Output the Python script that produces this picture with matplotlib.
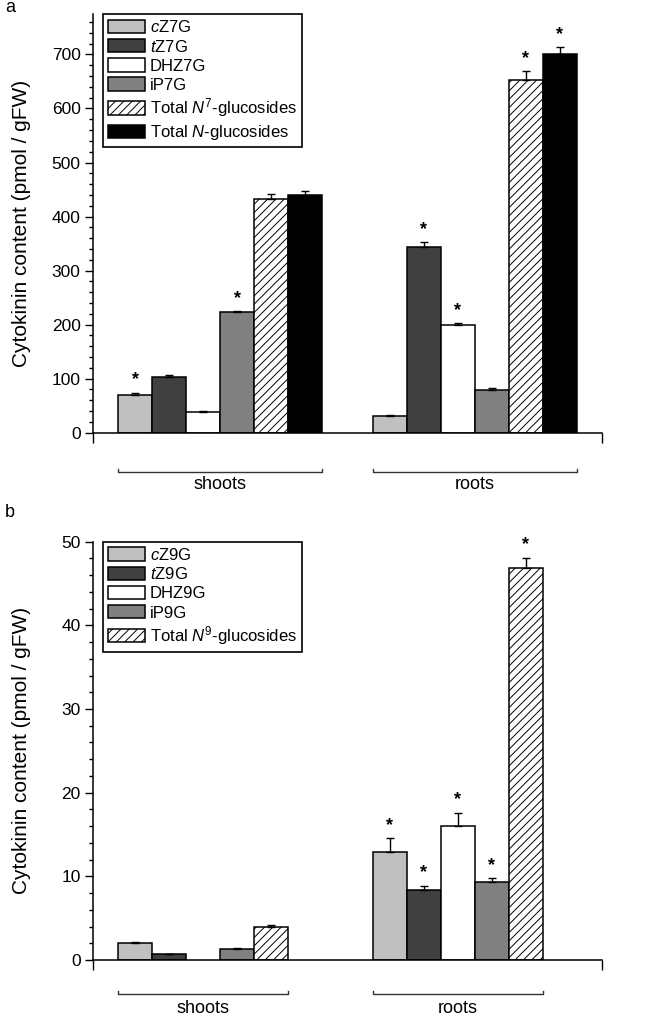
import numpy as np
import matplotlib
matplotlib.use("Agg")
import matplotlib.pyplot as plt
from matplotlib.patches import Patch
from matplotlib import transforms

plt.rcParams['font.family'] = ['Liberation Sans', 'DejaVu Sans']
plt.rcParams['mathtext.fontset'] = 'custom'
plt.rcParams['mathtext.rm'] = 'Liberation Sans'
plt.rcParams['mathtext.it'] = 'Liberation Sans:italic'
plt.rcParams['hatch.linewidth'] = 0.7

# data, panel a (N7 / total N-glucosides)
labels_a = ['$c$Z7G', '$t$Z7G', 'DHZ7G', 'iP7G', 'Total $N^{7}$-glucosides', 'Total $N$-glucosides']
shoots_a = [70, 102.5, 38, 223, 433, 439]
shoots_a_err = [4, 3.5, 1.5, 2, 8, 8]
roots_a = [30, 343, 200, 78.5, 652, 700]
roots_a_err = [3.5, 10, 3, 3.5, 17, 14]
stars_shoots_a = [True, False, False, True, False, False]
stars_roots_a = [False, True, True, False, True, True]

# data, panel b (N9-glucosides)
labels_b = ['$c$Z9G', '$t$Z9G', 'DHZ9G', 'iP9G', 'Total $N^{9}$-glucosides']
shoots_b = [2.0, 0.68, 0, 1.27, 3.96]
shoots_b_err = [0.1, 0.08, 0, 0.22, 0.2]
roots_b = [12.9, 8.4, 16.0, 9.35, 46.8]
roots_b_err = [1.7, 0.5, 1.6, 0.4, 1.3]
stars_shoots_b = [False] * 5
stars_roots_b = [True] * 5

groups = ['shoots', 'roots']

# bar styles
FACES = ['#c0c0c0', '#404040', 'white', '#808080', 'white', 'black']
HATCHES = [None, None, None, None, '////', None]

GROUP_START = [0.75, 8.25]
FS = 13


def draw_panel(ax, values, errors, stars, labels, ymax, major, minor, ncols, bracket_y, text_y):
    for g in range(2):
        for i in range(ncols):
            x = GROUP_START[g] + i + 0.5
            v = values[g][i]
            e = errors[g][i]
            if v > 0:
                ax.bar(x, v, width=1.0, color=FACES[i], edgecolor='black',
                       linewidth=1.1, hatch=HATCHES[i], zorder=2)
            if e > 0:
                ax.errorbar(x, v, yerr=[[0], [e]], fmt='none', ecolor='black',
                            elinewidth=1.0, capsize=3, capthick=1.0, zorder=3)
            if stars[g][i]:
                ax.annotate('*', (x, v + e), xytext=(0, 3), textcoords='offset points',
                            ha='center', va='bottom', fontsize=FS, fontweight='bold')
        # bracket under the group
        trans = transforms.blended_transform_factory(ax.transData, ax.transAxes)
        x0 = GROUP_START[g]
        x1 = GROUP_START[g] + ncols
        ax.plot([x0, x0, x1, x1], [bracket_y + 0.007, bracket_y, bracket_y, bracket_y + 0.007],
                color='#333333', lw=1.0, transform=trans, clip_on=False)
        ax.text((x0 + x1) / 2, text_y, groups[g], transform=trans,
                ha='center', va='center', fontsize=FS)

    ax.set_xlim(0, 15)
    ax.set_ylim(0, ymax)
    ax.set_xticks([0, 15])
    ax.set_xticklabels([])
    ax.set_yticks(np.arange(0, ymax + 0.1, major))
    ax.set_yticks(np.arange(0, ymax + 0.1, minor), minor=True)
    ax.tick_params(axis='y', which='major', length=6, width=1.0, labelsize=12.5, pad=3)
    ax.tick_params(axis='y', which='minor', length=3, width=1.0)
    ax.tick_params(axis='x', which='major', length=7, width=1.0)
    for s in ['top', 'right']:
        ax.spines[s].set_visible(False)
    for s in ['left', 'bottom']:
        ax.spines[s].set_linewidth(1.1)
    ax.set_ylabel('Cytokinin content (pmol / gFW)', fontsize=15)
    ax.yaxis.set_label_coords(-0.122, 0.5)

    handles = [Patch(facecolor=FACES[i], edgecolor='black', linewidth=1.1, hatch=HATCHES[i])
               for i in range(ncols)]
    leg = ax.legend(handles, labels, loc='upper left', bbox_to_anchor=(0.02, 1.0),
                    borderaxespad=0, fontsize=12, handlelength=2.2, handleheight=0.85,
                    handletextpad=0.3, labelspacing=0.22, borderpad=0.3,
                    fancybox=False, framealpha=1, edgecolor='black')
    leg.get_frame().set_linewidth(1.2)


fig = plt.figure(figsize=(6.62, 10.18), dpi=100)
ax_a = fig.add_axes([0.1405, 0.575, 0.7689, 0.4113])
ax_b = fig.add_axes([0.1405, 0.057, 0.7689, 0.4109])

draw_panel(ax_a, [shoots_a, roots_a], [shoots_a_err, roots_a_err],
           [stars_shoots_a, stars_roots_a], labels_a, 775, 100, 20, 6, -0.093, -0.125)
draw_panel(ax_b, [shoots_b, roots_b], [shoots_b_err, roots_b_err],
           [stars_shoots_b, stars_roots_b], labels_b, 50, 10, 2, 5, -0.082, -0.115)

fig.text(0.008, 0.993, 'a', fontsize=FS, va='center', ha='left')
fig.text(0.008, 0.497, 'b', fontsize=FS, va='center', ha='left')

fig.savefig('out.png', dpi=100)
